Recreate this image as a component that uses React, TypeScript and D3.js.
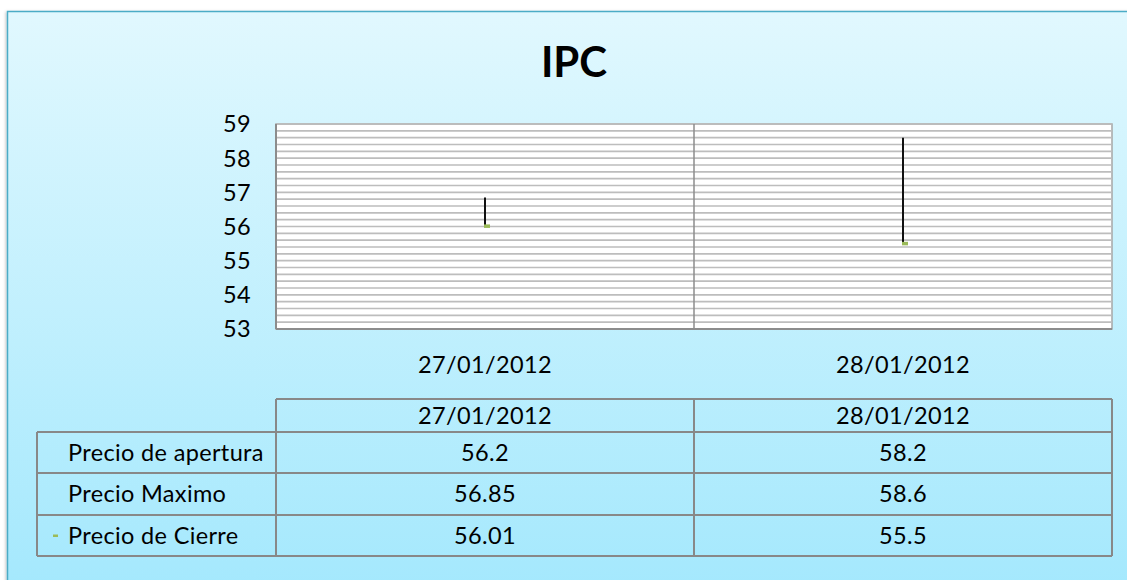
import React from "react";
import * as d3 from "d3";

const categories = ["27/01/2012", "28/01/2012"];
const seriesNames = ["Precio de apertura", "Precio Maximo", "Precio de Cierre"];
const openPrices = [56.2, 58.2];
const highPrices = [56.85, 58.6];
const closePrices = [56.01, 55.5];
const yTicks = [53, 54, 55, 56, 57, 58, 59];
const title = "IPC";

const W = 1127;
const H = 580;
const FONT = "Lato, 'Open Sans', sans-serif";
const FS = 23.5;
const LS = 0.35;

export default function App() {
  const plot = { left: 276, right: 1112, top: 124, bottom: 329 };
  const y = d3.scaleLinear().domain([53, 59]).range([plot.bottom, plot.top]);
  const x = d3.scaleBand<string>().domain(categories).range([plot.left, plot.right]);
  const minorGrid = d3.range(53, 59.0001, 0.2);

  const tableRows = [openPrices, highPrices, closePrices];
  const headerTop = 399;
  const headerBottom = 432;
  const rowEdges = [432, 473, 515, 556];
  const tableLeft = 37;

  return (
    <svg
      width={W}
      height={H}
      style={{ position: "absolute", left: 0, top: 0, display: "block" }}
      fontFamily={FONT}
    >
      <defs>
        <linearGradient id="bg" x1="0" y1="0" x2="0" y2="1">
          <stop offset="0" stopColor="#E1F8FE" />
          <stop offset="1" stopColor="#A3E8FD" />
        </linearGradient>
        <filter id="sh" x="-5%" y="-5%" width="110%" height="110%">
          <feDropShadow dx="-1" dy="1" stdDeviation="1.5" floodColor="#000" floodOpacity="0.25" />
        </filter>
      </defs>
      <rect x={0} y={0} width={W} height={H} fill="#ffffff" />
      <rect
        x={7.5}
        y={11.5}
        width={W + 10}
        height={H + 10}
        fill="url(#bg)"
        stroke="#4BACC6"
        strokeWidth={1.5}
        filter="url(#sh)"
      />

      <text
        x={(plot.left + plot.right) / 2 - 120}
        y={77}
        textAnchor="middle"
        fontSize={42}
        fontWeight="bold"
        fill="#000"
      >
        {title}
      </text>

      {/* plot area */}
      <rect
        x={plot.left}
        y={plot.top}
        width={plot.right - plot.left}
        height={plot.bottom - plot.top}
        fill="#ffffff"
        stroke="#a6a6a6"
        strokeWidth={1.5}
      />
      {minorGrid.map((v, i) => (
        <line
          key={"g" + i}
          x1={plot.left}
          x2={plot.right}
          y1={y(v)}
          y2={y(v)}
          stroke="#bdbdbd"
          strokeWidth={1.6}
        />
      ))}
      {categories.slice(1).map((c) => (
        <line
          key={"d" + c}
          x1={x(c)!}
          x2={x(c)!}
          y1={plot.top}
          y2={plot.bottom}
          stroke="#8c8c8c"
          strokeWidth={1.5}
        />
      ))}
      <line x1={plot.left} x2={plot.left} y1={plot.top} y2={plot.bottom} stroke="#8c8c8c" strokeWidth={2} />
      <line x1={plot.left} x2={plot.right} y1={plot.bottom} y2={plot.bottom} stroke="#8c8c8c" strokeWidth={2} />

      {yTicks.map((t) => (
        <text key={"yt" + t} x={251} y={y(t)} dy="0.36em" textAnchor="end" fontSize={FS} letterSpacing={LS} fill="#000">
          {t}
        </text>
      ))}

      {categories.map((c, i) => {
        const cx = x(c)! + x.bandwidth() / 2;
        const vals = [openPrices[i], highPrices[i], closePrices[i]];
        const hi = d3.max(vals)!;
        const lo = d3.min(vals)!;
        return (
          <g key={"s" + c}>
            <line x1={cx} x2={cx} y1={y(hi)} y2={y(lo)} stroke="#111" strokeWidth={2} />
            <rect x={cx - 1} y={y(closePrices[i]) - 1.75} width={6} height={3.5} fill="#9BBB59" />
          </g>
        );
      })}

      {categories.map((c) => (
        <text
          key={"xl" + c}
          x={x(c)! + x.bandwidth() / 2}
          y={365}
          dy="0.36em"
          textAnchor="middle"
          fontSize={FS}
          letterSpacing={LS}
          fill="#000"
        >
          {c}
        </text>
      ))}

      <g stroke="#888888" strokeWidth={2} fill="none">
        <line x1={plot.left} x2={plot.right} y1={headerTop} y2={headerTop} />
        {rowEdges.map((ry, i) => (
          <line key={"r" + i} x1={tableLeft} x2={plot.right} y1={ry} y2={ry} />
        ))}
        <line x1={tableLeft} x2={tableLeft} y1={rowEdges[0]} y2={rowEdges[rowEdges.length - 1]} />
        <line x1={plot.left} x2={plot.left} y1={headerTop} y2={rowEdges[rowEdges.length - 1]} />
        {categories.slice(1).map((c) => (
          <line key={"tc" + c} x1={x(c)!} x2={x(c)!} y1={headerTop} y2={rowEdges[rowEdges.length - 1]} />
        ))}
        <line x1={plot.right} x2={plot.right} y1={headerTop} y2={rowEdges[rowEdges.length - 1]} />
      </g>
      {categories.map((c) => (
        <text
          key={"th" + c}
          x={x(c)! + x.bandwidth() / 2}
          y={(headerTop + headerBottom) / 2}
          dy="0.36em"
          textAnchor="middle"
          fontSize={FS}
          letterSpacing={LS}
          fill="#000"
        >
          {c}
        </text>
      ))}
      {seriesNames.map((name, r) => {
        const cy = (rowEdges[r] + rowEdges[r + 1]) / 2;
        return (
          <g key={"row" + r}>
            {r === 2 && <rect x={53} y={cy - 1} width={5} height={2.5} fill="#9BBB59" />}
            <text x={68} y={cy} dy="0.36em" fontSize={FS} letterSpacing={LS} fill="#000">
              {name}
            </text>
            {categories.map((c, ci) => (
              <text
                key={"v" + ci}
                x={x(c)! + x.bandwidth() / 2}
                y={cy}
                dy="0.36em"
                textAnchor="middle"
                fontSize={FS}
                letterSpacing={LS}
                fill="#000"
              >
                {tableRows[r][ci]}
              </text>
            ))}
          </g>
        );
      })}
    </svg>
  );
}
